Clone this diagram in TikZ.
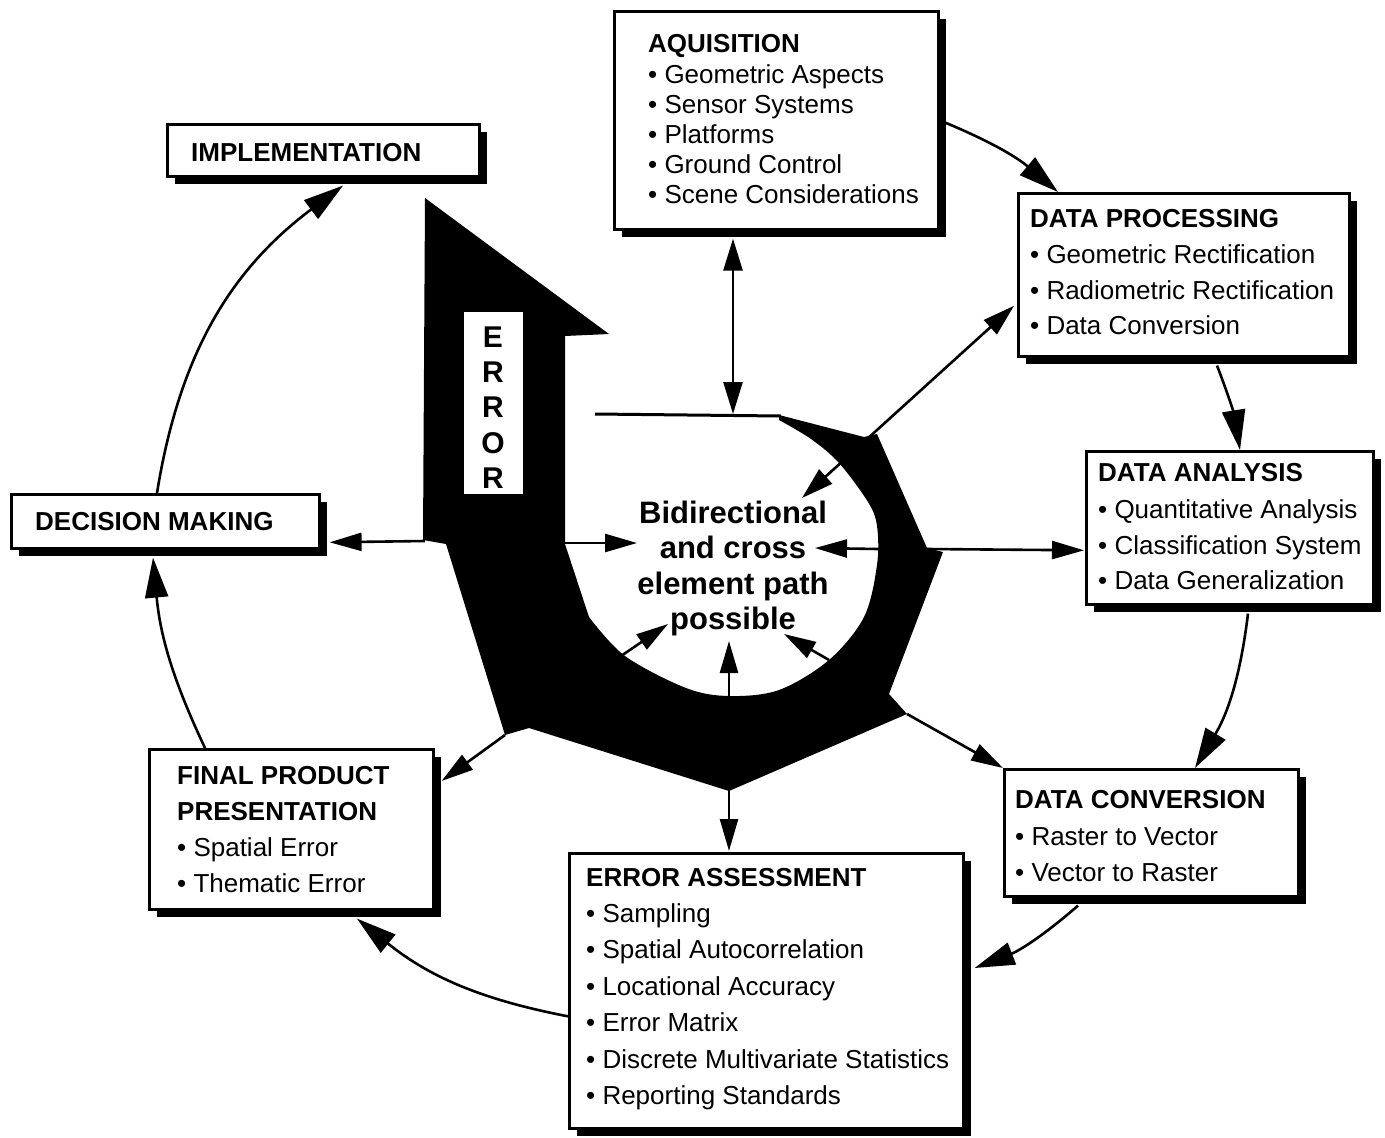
\documentclass[tikz,border=0pt]{standalone}
\usepackage{fontspec}
\setmainfont{Liberation Sans}
\usetikzlibrary{arrows.meta,calc,shadows}
\begin{document}
\begin{tikzpicture}[x=1pt,y=-1pt,
  box/.style={draw=black, line width=2.6pt, fill=white, inner sep=0pt, anchor=north west,
    drop shadow={shadow xshift=8pt, shadow yshift=-8pt, fill=black, opacity=1}},
  ttl/.style={anchor=base west, inner sep=0pt, font=\fontsize{26pt}{30pt}\selectfont\bfseries},
  itm/.style={anchor=base west, inner sep=0pt, font=\fontsize{26pt}{30pt}\selectfont},
  ctr/.style={anchor=base, inner sep=0pt, font=\fontsize{31pt}{36pt}\selectfont\bfseries},
  errl/.style={anchor=base, inner sep=0pt, font=\fontsize{30pt}{35pt}\selectfont\bfseries},
  cyc/.style={line width=2.6pt, -{Triangle[length=40pt,width=23pt]}},
  ina/.style={line width=2.6pt, -{Triangle[length=32pt,width=18pt]}},
  bia/.style={line width=2.6pt, {Triangle[length=32pt,width=19pt]}-{Triangle[length=32pt,width=19pt]}}
]
\useasboundingbox (0,0) rectangle (1385,1138);

% ---- central black shape ----
\fill[black] (425,198) -- (609,334) -- (565,336) -- (565,544)
  -- plot[smooth,tension=0.55] coordinates {(589,617) (625,656) (686,688) (729,696) (779,690) (829,660) (864,617) (877,565) (877,526) (868,502) (839,463) (811,439) (779,420)}
  -- (779,415) -- (864,437) -- (877,434) -- (927,548) -- (943,552) -- (889,694) -- (907,714)
  -- (729,791) -- (529,728) -- (505,735) -- (446,544) -- (423,540) -- cycle;
\draw[line width=3pt] (595,414) -- (781,416);

% ERROR label
\node[fill=white, minimum width=59pt, minimum height=182pt, inner sep=0pt] (errlab) at (493.5,403) {};
\node[errl] (e1) at (493,347) {E};
\node[errl] (e2) at (493,382) {R};
\node[errl] (e3) at (493,417.5) {R};
\node[errl] (e4) at (493,453) {O};
\node[errl] (e5) at (493,488) {R};

% centre text
\node[ctr] (c1) at (733,523) {Bidirectional};
\node[ctr] (c2) at (733,558.5) {and cross};
\node[ctr] (c3) at (733,594) {element path};
\node[ctr] (c4) at (733,629.5) {possible};

% ---- boxes ----
\node[box, minimum width=324pt, minimum height=218pt] (acq) at (613,10) {};
\node[box, minimum width=312pt, minimum height=52pt] (impl) at (166,123) {};
\node[box, minimum width=308pt, minimum height=54pt] (dec) at (10,493) {};
\node[box, minimum width=331pt, minimum height=163pt] (proc) at (1017,192) {};
\node[box, minimum width=287pt, minimum height=153pt] (ana) at (1085,450) {};
\node[box, minimum width=294pt, minimum height=127pt] (conv) at (1003,768) {};
\node[box, minimum width=394pt, minimum height=275pt] (err) at (568,852) {};
\node[box, minimum width=284pt, minimum height=160pt] (fin) at (148,748) {};

% ---- shape coordinates ----
\coordinate (sTop) at (733,414);
\coordinate (sPin) at (802,498);
\coordinate (sDec) at (425,541);
\coordinate (sL1) at (565,543);
\coordinate (cL) at (637,543);
\coordinate (sR1) at (878,549);
\coordinate (cR) at (815,548);
\coordinate (sAna) at (927,549);
\coordinate (sB1) at (621,656);
\coordinate (cB1) at (668,624);
\coordinate (sB2) at (729,696);
\coordinate (cB2) at (729,641);
\coordinate (sB3) at (829,660);
\coordinate (cB3) at (784,634);
\coordinate (sErr) at (729,791);
\coordinate (sFin) at (505,735);
\coordinate (sConv) at (907,714);

% ---- inner connectors ----
\draw[bia] (sTop) -- ($(sTop |- acq.south)+(0,8)$);
\draw[bia] (sPin) -- ($(proc.west)+(-3,31)$);
\draw[ina] (sDec) -- ($(dec.east)+(9,21)$);
\draw[ina] (sL1) -- (cL);
\draw[ina] (sR1) -- (cR);
\draw[ina] (sAna) -- ($(ana.west)+(-1,22.5)$);
\draw[ina] (sB1) -- (cB1);
\draw[ina] (sB2) -- (cB2);
\draw[ina] (sB3) -- (cB3);
\draw[ina] (sErr) -- ($(sErr |- err.north)+(0,-1)$);
\draw[ina] (sFin) -- ($(fin.north east)+(7,33)$);
\draw[ina] (sConv) -- (conv.north west);

% ---- outer cycle ----
\draw[cyc] (acq.east) to[bend left=9] ($(proc.north west)+(41,0)$);
\draw[cyc] ($(proc.south west)+(200,8)$) to[bend left=6] ($(ana.north west)+(155,0)$);
\draw[cyc] ($(ana.south west)+(163,8)$) to[bend left=12] ($(conv.north west)+(192,0)$);
\draw[cyc] ($(conv.south west)+(75,8)$) to[bend left=10] ($(err.north east)+(10,116)$);
\draw[cyc] ($(err.west)+(0,25.5)$) to[bend left=14] ($(fin.south west)+(209,8)$);
\draw[cyc] ($(fin.north west)+(57,0)$) to[bend left=10] ($(dec.south west)+(143,8)$);
\draw[cyc] ($(dec.north west)+(147,0)$) to[bend left=22] ($(impl.south west)+(177,8)$);

% ---- box texts ----
\node[ttl] (acqT) at (648,52) {AQUISITION};
\node[itm] (acq1) at (648,83) {• Geometric Aspects};
\node[itm] (acq2) at (648,113) {• Sensor Systems};
\node[itm] (acq3) at (648,143) {• Platforms};
\node[itm] (acq4) at (648,173) {• Ground Control};
\node[itm] (acq5) at (648,203) {• Scene Considerations};

\node[ttl] (implT) at (191,161) {IMPLEMENTATION};
\node[ttl] (decT) at (35,530) {DECISION MAKING};

\node[ttl] (procT) at (1030,227) {DATA PROCESSING};
\node[itm] (proc1) at (1030,263) {• Geometric Rectification};
\node[itm] (proc2) at (1030,299) {• Radiometric Rectification};
\node[itm] (proc3) at (1030,334) {• Data Conversion};

\node[ttl] (anaT) at (1098,481) {DATA ANALYSIS};
\node[itm] (ana1) at (1098,518) {• Quantitative Analysis};
\node[itm] (ana2) at (1098,554) {• Classification System};
\node[itm] (ana3) at (1098,589) {• Data Generalization};

\node[ttl] (convT) at (1015,808) {DATA CONVERSION};
\node[itm] (conv1) at (1015,845) {• Raster to Vector};
\node[itm] (conv2) at (1015,881) {• Vector to Raster};

\node[ttl] (errT) at (586,886) {ERROR ASSESSMENT};
\node[itm] (err1) at (586,922) {• Sampling};
\node[itm] (err2) at (586,958) {• Spatial Autocorrelation};
\node[itm] (err3) at (586,995) {• Locational Accuracy};
\node[itm] (err4) at (586,1031) {• Error Matrix};
\node[itm] (err5) at (586,1068) {• Discrete Multivariate Statistics};
\node[itm] (err6) at (586,1104) {• Reporting Standards};

\node[ttl] (finT1) at (177,784) {FINAL PRODUCT};
\node[ttl] (finT2) at (177,820) {PRESENTATION};
\node[itm] (fin1) at (177,856) {• Spatial Error};
\node[itm] (fin2) at (177,892) {• Thematic Error};
\end{tikzpicture}
\end{document}
